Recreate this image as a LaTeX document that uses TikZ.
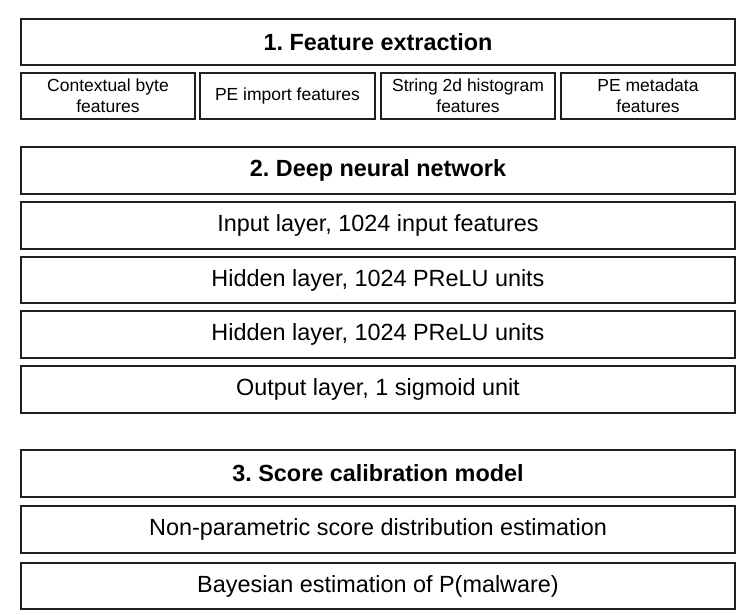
\documentclass[tikz,border=0pt]{standalone}
\usepackage{fontspec}
\setmainfont{Liberation Sans}
\frenchspacing
\definecolor{edge}{HTML}{202020}
\begin{document}
\begin{tikzpicture}[x=1pt,y=-1pt,
  box/.style={draw=edge, line width=1.6pt, fill=white, inner sep=0pt, align=center,
    minimum width=714pt, minimum height=46pt, font=\fontsize{23.4}{28}\selectfont\frenchspacing},
  head/.style={box, font=\fontsize{23.4}{28}\selectfont\bfseries\frenchspacing},
  small/.style={box, minimum width=174pt, font=\fontsize{17.5}{21}\selectfont}]
\useasboundingbox (0,0) rectangle (747,614);
\node[head] (fe) at (378,42) {1. Feature extraction};
\node[small] (cb) at (108,96) {Contextual byte\\features};
\node[small, minimum width=175pt] (pi) at (287.5,96) {PE import features};
\node[small] (sh) at (468,96) {String 2d histogram\\features};
\node[small] (pm) at (648,96) {PE metadata\\features};
\node[head, minimum height=47pt] (dnn) at (378,170.5) {2. Deep neural network};
\node[box, minimum height=47pt] (in) at (378,225.5) {Input layer, 1024 input features};
\node[box] (h1) at (378,280) {Hidden layer, 1024 PReLU units};
\node[box, minimum height=47pt] (h2) at (378,334.5) {Hidden layer, 1024 PReLU units};
\node[box, minimum height=47pt] (out) at (378,389.5) {Output layer, 1 sigmoid unit};
\node[head, minimum height=47pt] (sc) at (378,473.5) {3. Score calibration model};
\node[box, minimum height=47pt] (np) at (378,529.5) {Non-parametric score distribution estimation};
\node[box] (be) at (378,586) {Bayesian estimation of P(malware)};
\end{tikzpicture}
\end{document}
